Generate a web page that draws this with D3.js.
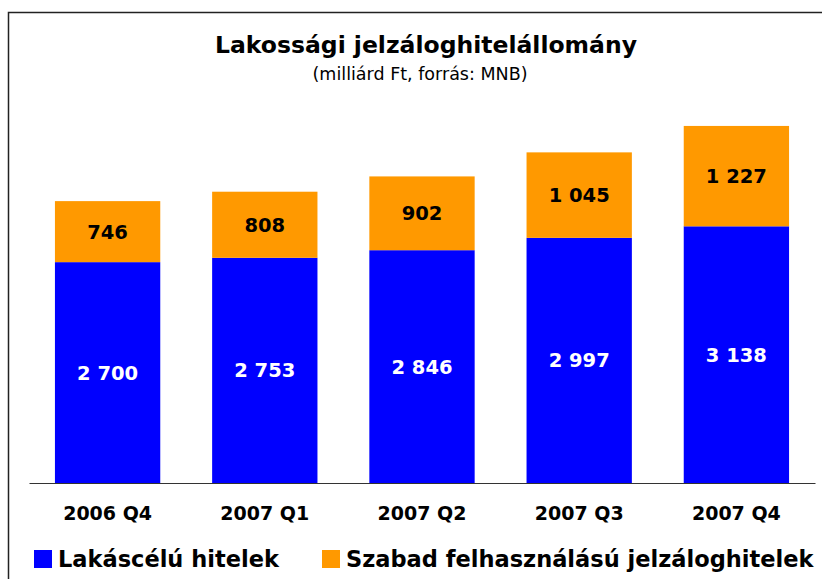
<!DOCTYPE html>
<html>
  <head>
    <meta http-equiv="Content-Type" content="text/html;charset=utf-8"/>
    <title>Lakossági jelzáloghitelállomány</title>
    <script src="https://d3js.org/d3.v7.min.js"></script>
  </head>
  <body>
    <style>
      body { margin: 0; background: #fff; }
      svg text { font-family: "DejaVu Sans", sans-serif; }
    </style>
    <script type="text/javascript">

        // data
        const categories = ['2006 Q4', '2007 Q1', '2007 Q2', '2007 Q3', '2007 Q4']
        const lakascelu = [2700, 2753, 2846, 2997, 3138]
        const szabad = [746, 808, 902, 1045, 1227]
        const seriesNames = ['Lakáscélú hitelek', 'Szabad felhasználású jelzáloghitelek']
        const colors = ['#0000ff', '#ff9900']

        const width = 822,
            height = 579

        const svg = d3.select('body').append('svg')
            .attr('width', width)
            .attr('height', height)

        // frame
        svg.append('path')
            .attr('d', 'M8.5,' + height + 'V12.5H' + width)
            .attr('fill', 'none')
            .attr('stroke', '#222')
            .attr('stroke-width', 1.5)

        svg.append('text')
            .attr('x', 426).attr('y', 53)
            .attr('text-anchor', 'middle')
            .attr('font-size', 23.5).attr('font-weight', 'bold')
            .text('Lakossági jelzáloghitelállomány')

        svg.append('text')
            .attr('x', 420).attr('y', 80)
            .attr('text-anchor', 'middle')
            .attr('font-size', 17.5)
            .text('(milliárd Ft, forrás: MNB)')

        const x = d3.scaleBand()
            .domain(categories)
            .range([29, 815])
            .paddingInner(0.33)
            .paddingOuter(0.165)

        const y = d3.scaleLinear()
            .domain([0, 5000])
            .range([483, 74])

        const fmt = v => d3.format(',')(v).replace(',', ' ')

        const data = categories.map((c, i) => ({ cat: c, a: lakascelu[i], b: szabad[i] }))

        const g = svg.selectAll('g.bar')
            .data(data)
            .enter()
            .append('g')
            .attr('class', 'bar')

        g.append('rect')
            .attr('x', d => x(d.cat))
            .attr('width', x.bandwidth())
            .attr('y', d => y(d.a))
            .attr('height', d => y(0) - y(d.a))
            .attr('fill', colors[0])

        g.append('rect')
            .attr('x', d => x(d.cat))
            .attr('width', x.bandwidth())
            .attr('y', d => y(d.a + d.b))
            .attr('height', d => y(d.a) - y(d.a + d.b))
            .attr('fill', colors[1])

        g.append('text')
            .attr('x', d => x(d.cat) + x.bandwidth() / 2)
            .attr('y', d => (y(0) + y(d.a)) / 2)
            .attr('dy', '0.36em')
            .attr('text-anchor', 'middle')
            .attr('font-size', 19.5).attr('font-weight', 'bold')
            .attr('fill', '#fff')
            .text(d => fmt(d.a))

        g.append('text')
            .attr('x', d => x(d.cat) + x.bandwidth() / 2)
            .attr('y', d => (y(d.a) + y(d.a + d.b)) / 2)
            .attr('dy', '0.36em')
            .attr('text-anchor', 'middle')
            .attr('font-size', 19.5).attr('font-weight', 'bold')
            .attr('fill', '#000')
            .text(d => fmt(d.b))

        // baseline + category labels
        const xAxis = svg.append('g')
            .attr('transform', 'translate(0,483)')
            .call(d3.axisBottom(x).tickSize(0).tickPadding(24))
        xAxis.select('.domain').attr('stroke', '#333').attr('stroke-width', 1.2)
        xAxis.selectAll('text')
            .attr('font-family', '"DejaVu Sans", sans-serif')
            .attr('font-size', 19).attr('font-weight', 'bold')
            .attr('fill', '#000')

        // legend
        const legendX = [34, 322]
        seriesNames.forEach((name, i) => {
            svg.append('rect')
                .attr('x', legendX[i]).attr('y', 550)
                .attr('width', 18).attr('height', 18)
                .attr('fill', colors[i])
            svg.append('text')
                .attr('x', legendX[i] + 24).attr('y', 567)
                .attr('font-size', 22.5).attr('font-weight', 'bold')
                .text(name)
        })

    </script>
  </body>
</html>
